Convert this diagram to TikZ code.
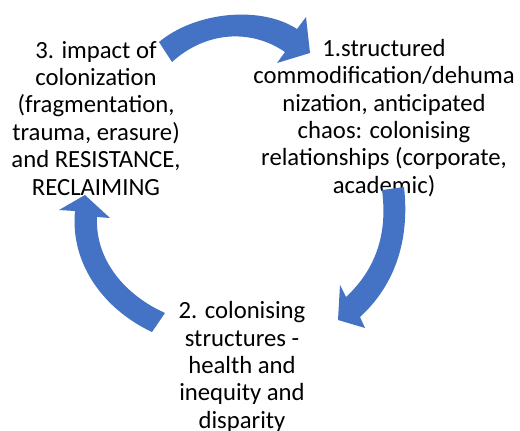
\documentclass[tikz,border=0pt]{standalone}
\usepackage{fontspec}
\setmainfont{Carlito}
\definecolor{arrowblue}{HTML}{4472C4}
\tikzset{
  blockarrow/.style={fill=arrowblue, draw=none},
  steplabel/.style={align=center, inner sep=0pt, anchor=base, text=black,
    font=\fontsize{24.7}{27.4}\selectfont}
}
\begin{document}
\begin{tikzpicture}[x=1pt,y=-1pt]
\useasboundingbox (0,0) rectangle (520,431);
% labels (base anchor = baseline of last line)
\node[steplabel] (s3) at (96,195) {3. impact of\\colonization\\(fragmentation,\\trauma, erasure)\\and RESISTANCE,\\RECLAIMING};
\node[steplabel] (s1) at (384,193.3) {1.structured\\commodification/dehuma\\nization, anticipated\\chaos: colonising\\relationships (corporate,\\academic)};
\node[steplabel] (s2) at (242,428.3) {2. colonising\\structures -\\health and\\inequity and\\disparity};
% top arrow (3 -> 1)
\fill[blockarrow] (159,42) .. controls (195,12) and (260,5) .. (297,29)
  -- (306,17) -- (310,53) -- (277,63) -- (285,52)
  .. controls (250,28) and (205,32) .. (172,62) -- cycle;
% right arrow (1 -> 2)
\fill[blockarrow] (404,187) .. controls (410,240) and (395,285) .. (360,317)
  -- (365,328) -- (338,320) -- (340,285) -- (346,297)
  .. controls (375,270) and (388,235) .. (382,190) -- cycle;
% left arrow (2 -> 3)
\fill[blockarrow] (85,195) -- (110,218) -- (97,217)
  .. controls (95,260) and (125,295) .. (165,313) -- (152,332)
  .. controls (105,310) and (70,265) .. (75,211) -- (59,210) -- cycle;
\end{tikzpicture}
\end{document}
